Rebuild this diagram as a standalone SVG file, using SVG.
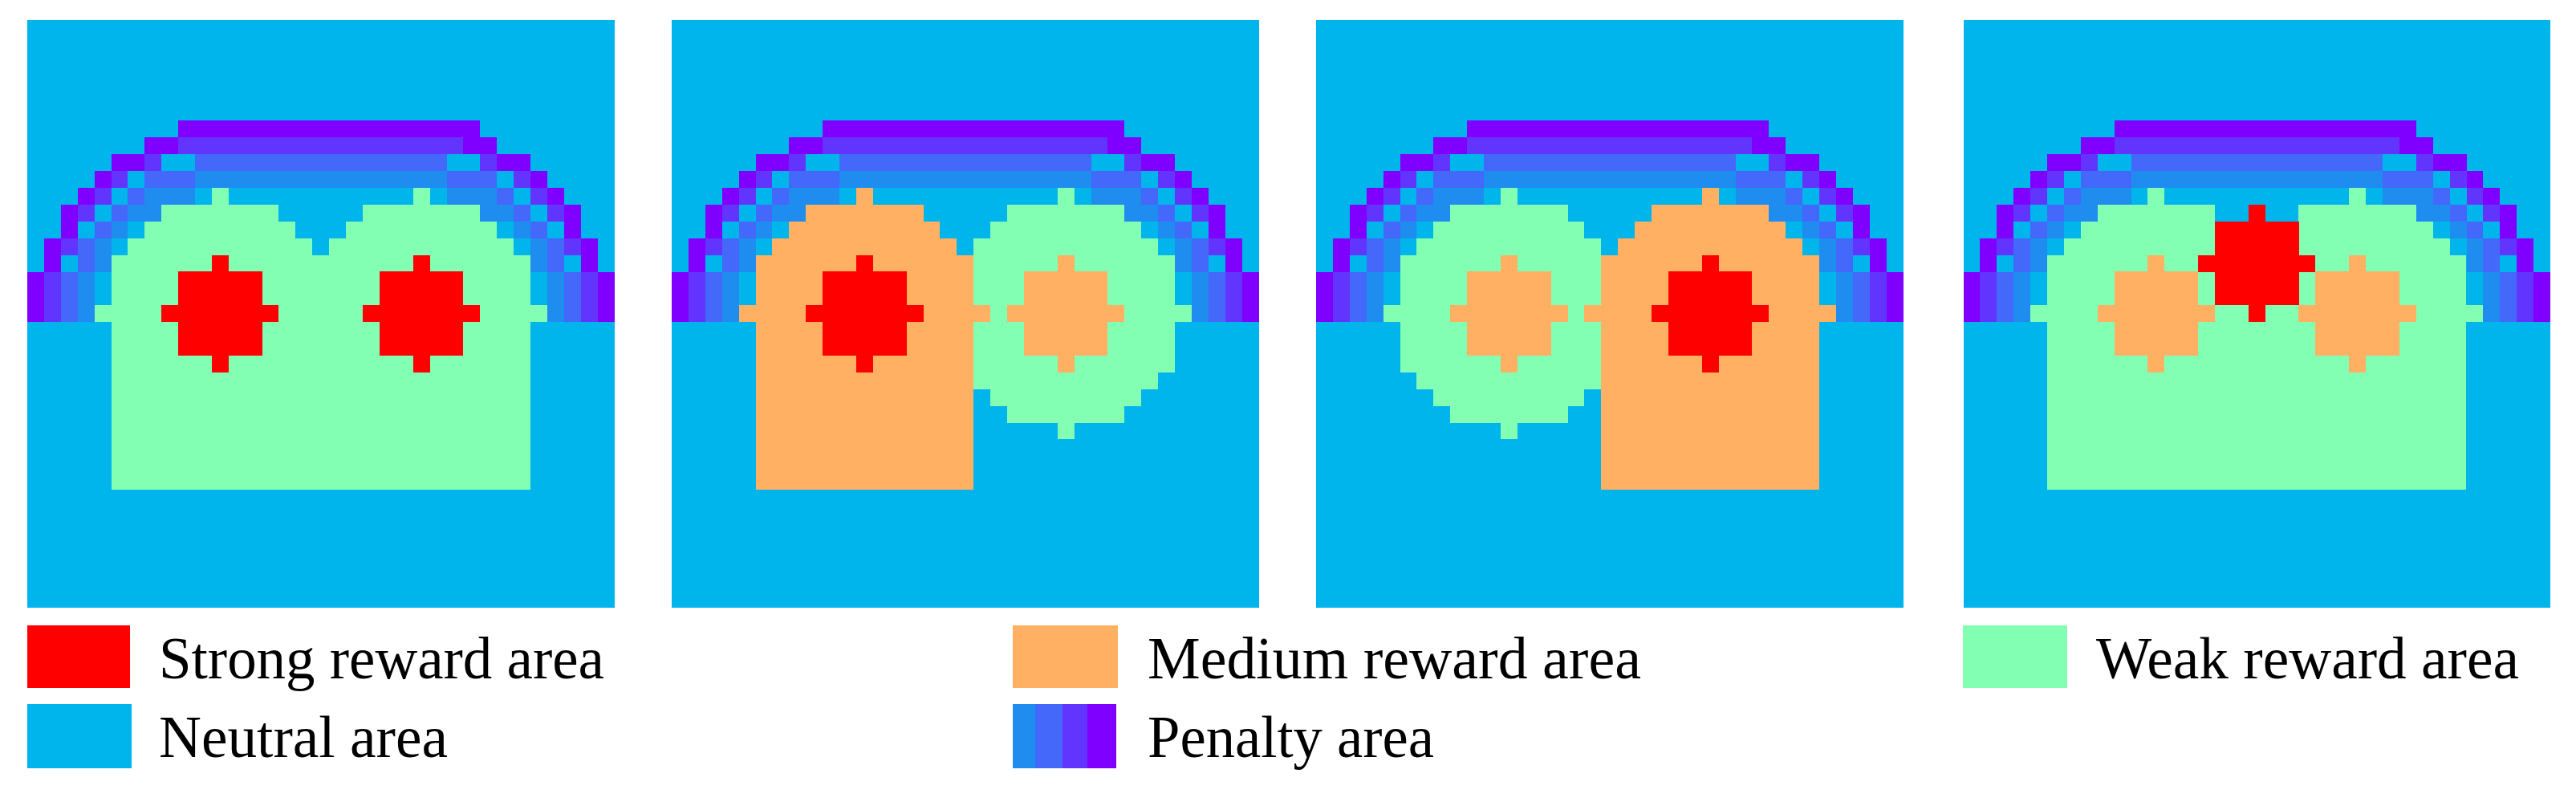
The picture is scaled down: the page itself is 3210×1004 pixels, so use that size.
<svg xmlns="http://www.w3.org/2000/svg" xmlns:xlink="http://www.w3.org/1999/xlink" width="3210" height="1004" viewBox="0 0 3210 1004">
<style>
.bg{fill:#00B4EC}
.p1{fill:#8000FF}
.p2{fill:#6235FF}
.p3{fill:#4468FA}
.p4{fill:#1F8CF0}
.weak{fill:#82FFB2}
.med{fill:#FFB062}
.strong{fill:#FF0000}
.cells{shape-rendering:crispEdges}
.lbl{font-family:"Liberation Serif","Times New Roman",serif;font-size:74px;fill:#000}
</style>
<defs>
<path id="d7" d="M0,-7 H1 V-6 H4 V-5 H5 V-4 H6 V-3 H7 V0 H8 V1 H7 V4 H6 V5 H5 V6 H4 V7 H1 V8 H0 V7 H-3 V6 H-4 V5 H-5 V4 H-6 V1 H-7 V0 H-6 V-3 H-5 V-4 H-4 V-5 H-3 V-6 H0 Z"/>
<path id="tomb" d="M0,-7 H1 V-6 H4 V-5 H5 V-4 H6 V-3 H7 V0 H8 V1 H7 V11 H-6 V1 H-7 V0 H-6 V-3 H-5 V-4 H-4 V-5 H-3 V-6 H0 Z"/>
<path id="d3" d="M0,-3 H1 V-2 H3 V0 H4 V1 H3 V3 H1 V4 H0 V3 H-2 V1 H-3 V0 H-2 V-2 H0 Z"/>
<g id="arcL">
<rect class="p1" x="9" y="6" width="9" height="1"/>
<rect class="p1" x="7" y="7" width="2" height="1"/>
<rect class="p1" x="5" y="8" width="2" height="1"/>
<rect class="p1" x="4" y="9" width="1" height="1"/>
<rect class="p1" x="3" y="10" width="1" height="1"/>
<rect class="p1" x="2" y="11" width="1" height="2"/>
<rect class="p1" x="1" y="13" width="1" height="2"/>
<rect class="p1" x="0" y="15" width="1" height="3"/>
<rect class="p2" x="9" y="7" width="9" height="1"/>
<rect class="p2" x="7" y="8" width="1" height="1"/>
<rect class="p2" x="5" y="9" width="1" height="1"/>
<rect class="p2" x="4" y="10" width="1" height="1"/>
<rect class="p2" x="3" y="11" width="1" height="1"/>
<rect class="p2" x="2" y="13" width="1" height="1"/>
<rect class="p2" x="1" y="15" width="1" height="3"/>
<rect class="p3" x="10" y="8" width="8" height="1"/>
<rect class="p3" x="7" y="9" width="3" height="1"/>
<rect class="p3" x="6" y="10" width="1" height="1"/>
<rect class="p3" x="5" y="11" width="1" height="1"/>
<rect class="p3" x="4" y="12" width="1" height="1"/>
<rect class="p3" x="3" y="13" width="1" height="2"/>
<rect class="p3" x="2" y="15" width="1" height="3"/>
<rect class="p4" x="10" y="9" width="8" height="1"/>
<rect class="p4" x="7" y="10" width="3" height="1"/>
<rect class="p4" x="6" y="11" width="2" height="1"/>
<rect class="p4" x="5" y="12" width="1" height="1"/>
<rect class="p4" x="4" y="13" width="1" height="2"/>
<rect class="p4" x="3" y="15" width="1" height="3"/>
</g>
<g id="arc">
<use xlink:href="#arcL"/>
<use xlink:href="#arcL" transform="matrix(-1 0 0 1 35 0)"/>
<rect class="p1" x="26" y="6" width="1" height="1"/>
</g>
</defs>
<g id="panel1" class="cells" transform="translate(34,25) scale(20.9)">
<rect class="bg" width="35" height="35"/>
<use xlink:href="#arc"/>
<use xlink:href="#tomb" x="11" y="17" class="weak"/>
<use xlink:href="#tomb" x="23" y="17" class="weak"/>
<use xlink:href="#d3" x="11" y="17" class="strong"/>
<use xlink:href="#d3" x="23" y="17" class="strong"/>
</g>
<g id="panel2" class="cells" transform="translate(837,25) scale(20.9)">
<rect class="bg" width="35" height="35"/>
<use xlink:href="#arc"/>
<use xlink:href="#d7" x="23" y="17" class="weak"/>
<use xlink:href="#tomb" x="11" y="17" class="med"/>
<use xlink:href="#d3" x="11" y="17" class="strong"/>
<use xlink:href="#d3" x="23" y="17" class="med"/>
</g>
<g id="panel3" class="cells" transform="translate(1640,25) scale(20.9)">
<rect class="bg" width="35" height="35"/>
<use xlink:href="#arc"/>
<use xlink:href="#d7" x="11" y="17" class="weak"/>
<use xlink:href="#tomb" x="23" y="17" class="med"/>
<use xlink:href="#d3" x="11" y="17" class="med"/>
<use xlink:href="#d3" x="23" y="17" class="strong"/>
</g>
<g id="panel4" class="cells" transform="translate(2446.5,25) scale(20.9)">
<rect class="bg" width="35" height="35"/>
<use xlink:href="#arc"/>
<use xlink:href="#tomb" x="11" y="17" class="weak"/>
<use xlink:href="#tomb" x="23" y="17" class="weak"/>
<use xlink:href="#d3" x="11" y="17" class="med"/>
<use xlink:href="#d3" x="23" y="17" class="med"/>
<use xlink:href="#d3" x="17" y="14" class="strong"/>
</g>
<g id="legend-strong">
<rect class="strong" x="34" y="779" width="128" height="78"/>
<text class="lbl" x="198" y="845" textLength="555" lengthAdjust="spacingAndGlyphs">Strong reward area</text>
</g>
<g id="legend-neutral">
<rect class="bg" x="34" y="877" width="130" height="80"/>
<text class="lbl" x="198" y="943" textLength="360" lengthAdjust="spacingAndGlyphs">Neutral area</text>
</g>
<g id="legend-medium">
<rect class="med" x="1262" y="779" width="131" height="78"/>
<text class="lbl" x="1430" y="845" textLength="615" lengthAdjust="spacingAndGlyphs">Medium reward area</text>
</g>
<g id="legend-penalty" class="cells">
<rect class="p4" x="1262" y="877" width="28" height="80"/>
<rect class="p3" x="1290" y="877" width="34" height="80"/>
<rect class="p2" x="1324" y="877" width="31" height="80"/>
<rect class="p1" x="1355" y="877" width="36" height="80"/>
<text class="lbl" x="1430" y="943" textLength="357" lengthAdjust="spacingAndGlyphs">Penalty area</text>
</g>
<g id="legend-weak">
<rect class="weak" x="2446" y="779" width="130" height="78"/>
<text class="lbl" x="2612" y="845" textLength="527" lengthAdjust="spacingAndGlyphs">Weak reward area</text>
</g>
</svg>
